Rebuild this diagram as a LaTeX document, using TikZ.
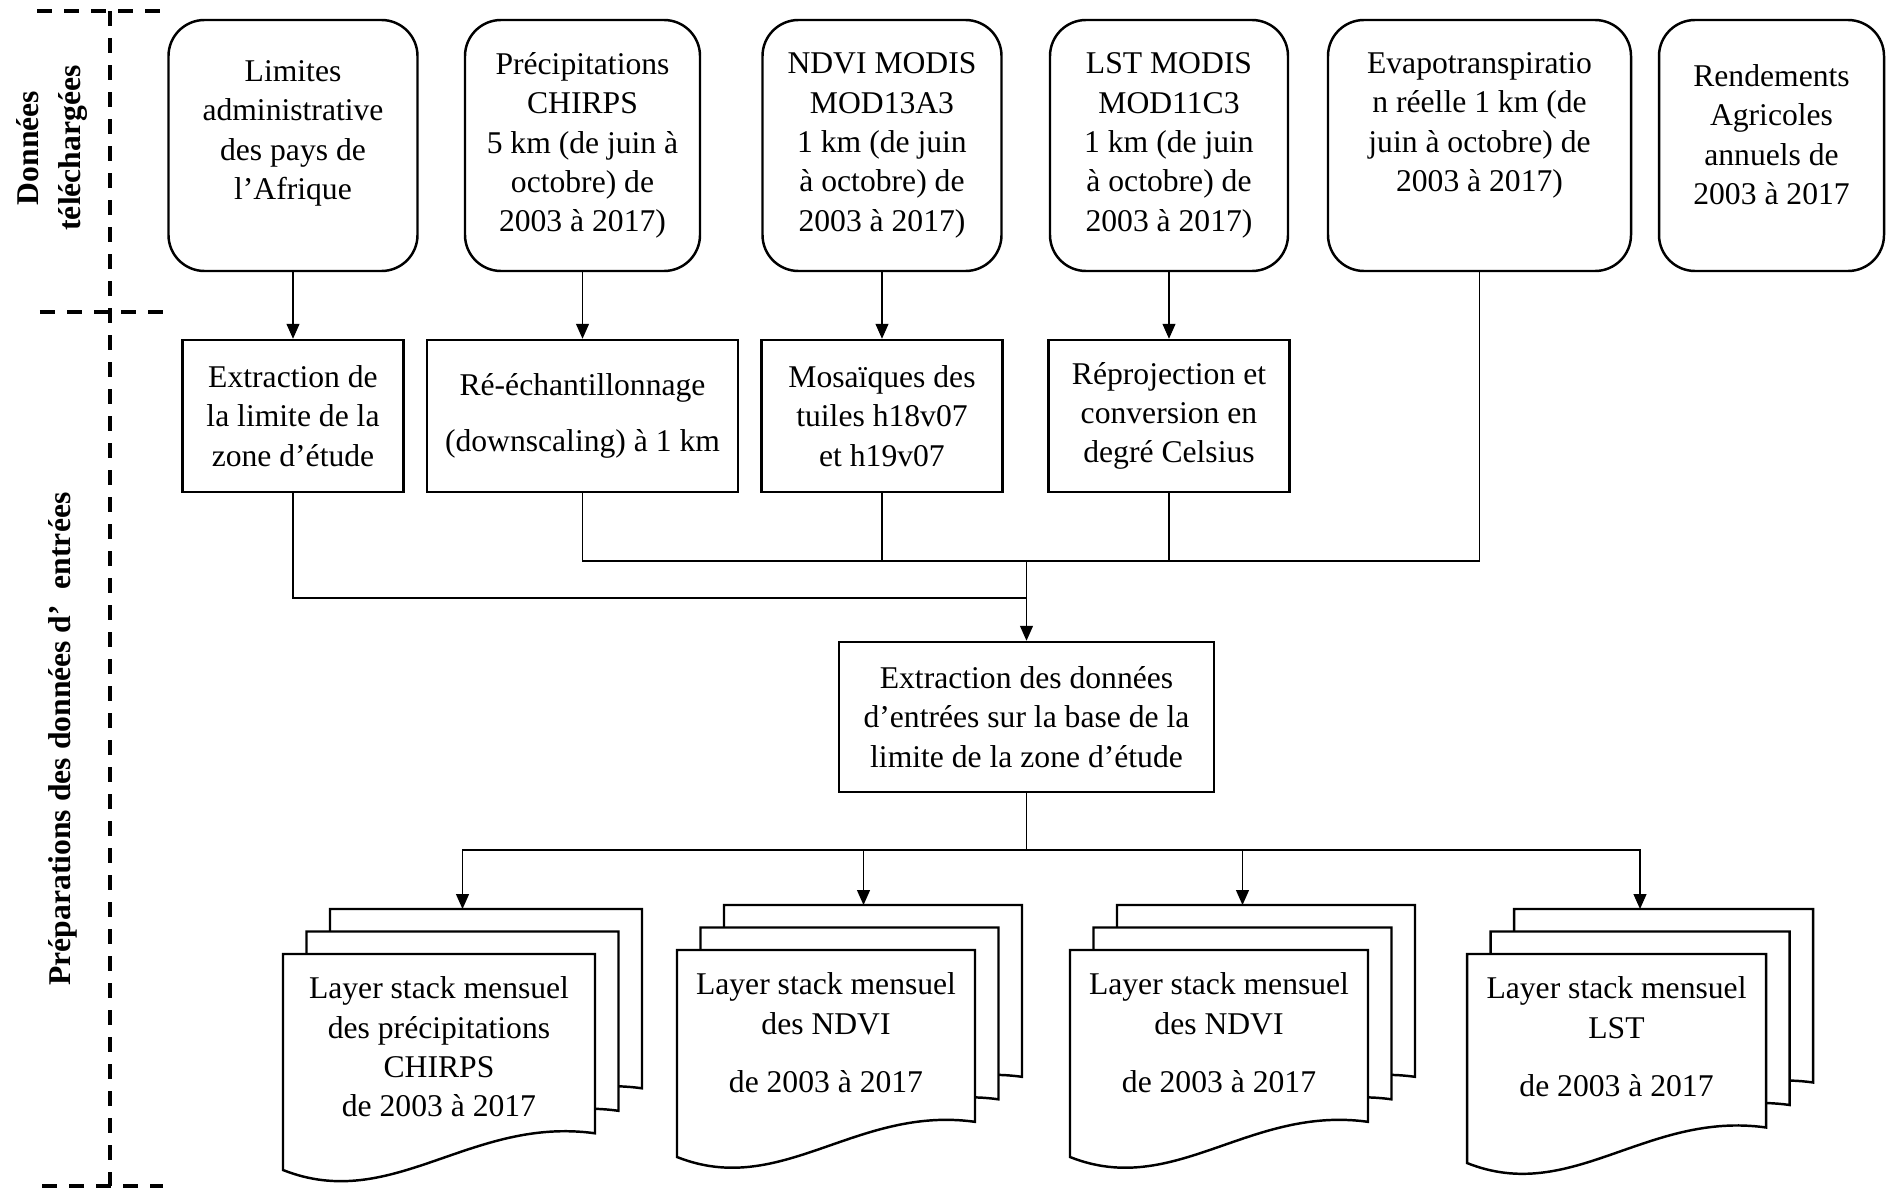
\documentclass[tikz,border=0pt]{standalone}
\usepackage{fontspec}
\setmainfont{Liberation Serif}
\usetikzlibrary{arrows.meta}

\begin{document}
\begin{tikzpicture}[
    font=\fontsize{9}{11.2}\selectfont,
    rbox/.style={draw, line width=0.7pt, rounded corners=3.6mm, align=center, inner sep=0pt, minimum height=2.51cm},
    sbox/.style={draw, line width=0.7pt, align=center, inner sep=0pt},
    raised/.style={align=center, inner sep=0pt, yshift=#1},
    line/.style={line width=0.35pt},
    arr/.style={line width=0.35pt, -{Triangle[width=1.3mm,length=1.5mm]}},
    zone/.style={line width=1.1pt, dash pattern=on 1.5mm off 1.2mm},
    sheet/.style={draw, fill=white, line width=0.7pt},
    side/.style={rotate=90, font=\fontsize{9}{12}\selectfont\bfseries, align=center},
    pics/docstack/.style n args={3}{code={
        \foreach \k in {2,1,0} {
            \begin{scope}[shift={(\k*0.235,\k*0.225)}]
            \filldraw[sheet] (0,0) -- (#1,0) -- (#1,-0.83*#2) .. controls (0.6*#1,-0.75*#2) and (0.35*#1,-1.2*#2) .. (0,-#2) -- cycle;
            \end{scope}
        }
        \node[align=center, inner sep=0pt, anchor=north] (-txt) at (0.5*#1,-0.22) {#3};
        \coordinate (-top) at (0.5*#1+0.235,0.45);
    }}
]
\useasboundingbox (0,0) rectangle (18.88,-11.92);

% zones
\draw[zone] (0.37,-0.11) -- (1.63,-0.11);
\draw[zone] (0.40,-3.12) -- (1.67,-3.12);
\draw[zone] (0.42,-11.86) -- (1.63,-11.86);
\draw[zone] (1.10,-0.11) -- (1.10,-11.86);
\node[side] (dl) at (0.52,-1.48) {Données\\téléchargées};
\node[side] (prep) at (0.63,-7.39) {Préparations des données d’\enspace entrées};

% donnees telechargees
\node[rbox, minimum width=2.49cm] (t1) at (2.93,-1.455) {};
\node[raised=1.2mm] (t1-txt) at (t1) {Limites\\administrative\\des pays de\\l’Afrique};
\node[rbox, minimum width=2.35cm] (t2) at (5.825,-1.455) {Précipitations\\CHIRPS\\5 km (de juin à\\octobre) de\\2003 à 2017)};
\node[rbox, minimum width=2.39cm] (t3) at (8.82,-1.455) {NDVI MODIS\\MOD13A3\\1 km (de juin\\à octobre) de\\2003 à 2017)};
\node[rbox, minimum width=2.38cm] (t4) at (11.69,-1.455) {LST MODIS\\MOD11C3\\1 km (de juin\\à octobre) de\\2003 à 2017)};
\node[rbox, minimum width=3.03cm] (t5) at (14.795,-1.455) {};
\node[raised=2.0mm] (t5-txt) at (t5) {Evapotranspiratio\\n réelle 1 km (de\\juin à octobre) de\\2003 à 2017)};
\node[rbox, minimum width=2.25cm] (t6) at (17.715,-1.455) {};
\node[raised=1.1mm] (t6-txt) at (t6) {Rendements\\Agricoles\\annuels de\\2003 à 2017};

% pretraitements
\node[sbox, minimum width=2.21cm, minimum height=1.52cm] (m1) at (2.93,-4.16) {Extraction de\\la limite de la\\zone d’étude};
\node[sbox, minimum width=3.11cm, minimum height=1.52cm] (m2) at (5.825,-4.16) {Ré-échantillonnage\\[1.6mm](downscaling) à 1 km};
\node[sbox, minimum width=2.41cm, minimum height=1.52cm] (m3) at (8.82,-4.16) {Mosaïques des\\tuiles h18v07\\et h19v07};
\node[sbox, minimum width=2.41cm, minimum height=1.52cm] (m4) at (11.69,-4.16) {Réprojection et\\conversion en\\degré Celsius};

\node[sbox, minimum width=3.75cm, minimum height=1.50cm] (ext) at (10.265,-7.17) {Extraction des données\\d’entrées sur la base de la\\limite de la zone d’étude};

\coordinate (merge-hi) at (10.265,-5.61);
\coordinate (merge-lo) at (10.265,-5.98);
\coordinate (split) at (10.265,-8.50);

% layer stacks
\pic (s1) at (2.83,-9.54) {docstack={3.12}{2.16}{Layer stack mensuel\\des précipitations\\CHIRPS\\de 2003 à 2017}};
\pic (s2) at (6.77,-9.50) {docstack={2.98}{2.07}{Layer stack mensuel\\des NDVI\\[1.9mm]de 2003 à 2017}};
\pic (s3) at (10.70,-9.50) {docstack={2.98}{2.07}{Layer stack mensuel\\des NDVI\\[1.9mm]de 2003 à 2017}};
\pic (s4) at (14.67,-9.54) {docstack={2.99}{2.09}{Layer stack mensuel\\LST\\[1.9mm]de 2003 à 2017}};

% liens
\foreach \i in {1,...,4}
    \draw[arr] (t\i) -- (m\i);
\foreach \n in {m2,m3,m4,t5}
    \draw[line] (\n.south) |- (merge-hi);
\draw[line] (m1.south) |- (merge-lo);
\draw[arr] (merge-hi) -- (ext);
\foreach \s/\dx in {s1/0,s2/1.4,s3/0,s4/0}
    \draw[arr] (ext.south) -- (split) -| ([xshift=\dx mm]\s-top);
\end{tikzpicture}
\end{document}
